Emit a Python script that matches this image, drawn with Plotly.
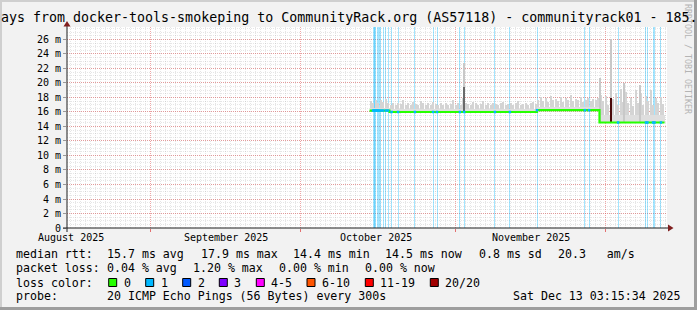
import numpy as np
import pandas as pd
import plotly.graph_objects as go

# ------------------------------------------------------------------ data
title_text = "ays from docker-tools-smokeping to CommunityRack.org (AS57118) - communityrack01 - 185."
watermark_text = "RRDTOOL / TOBI OETIKER"

x_range = ["2025-08-15 06:00", "2025-12-13 06:00"]
y_max_ms = 27.72

y_tick_vals = [0, 2, 4, 6, 8, 10, 12, 14, 16, 18, 20, 22, 24, 26]
y_tick_text = ["0", "2 m", "4 m", "6 m", "8 m", "10 m", "12 m", "14 m",
               "16 m", "18 m", "20 m", "22 m", "24 m", "26 m"]

month_labels = ["August 2025", "September 2025", "October 2025", "November 2025"]
month_label_dates = ["2025-08-16", "2025-09-16", "2025-10-16", "2025-11-16"]

# median rtt (ms), step changes
median_dates = ["2025-10-14 18:00", "2025-10-18 18:00", "2025-11-17 06:00",
                "2025-11-29 18:00", "2025-12-12 18:00"]
median_ms = [16.2, 16.0, 16.25, 14.55, 14.55]

# smoke: lower dense band top per median segment (ms)
smoke_band_ms = [16.6, 16.35, 16.7, 15.6, 15.6]

# smoke upper envelope, 12-hour steps starting at smoke_start (ms)
smoke_start = "2025-10-14 18:00"
smoke_top_ms = [
    17.5, 17.3, 17.7, 17.2, 17.6, 17.4, 17.8, 17.3,
    17.0, 17.2, 16.9, 17.3, 17.1, 17.6, 17.0, 17.2, 16.9, 17.4,
    17.1, 17.0, 17.5, 17.2, 16.9, 17.3, 17.0, 17.4, 17.1, 17.0,
    17.2, 16.9, 17.3, 17.0, 17.1, 17.6, 17.0, 17.2, 17.0, 17.9,
    17.3, 17.1, 17.0, 17.4, 17.2, 16.9, 17.1, 17.5, 17.0, 17.2,
    17.0, 17.3, 17.1, 16.9, 17.2, 17.4, 17.0, 17.1, 17.3, 17.0,
    17.2, 17.5, 17.0, 17.1, 17.3, 17.0, 17.2, 17.4, 17.1,
    17.6, 18.1, 17.5, 17.9, 17.4, 18.2, 17.6, 17.8, 17.5, 18.0,
    17.4, 17.9, 17.6, 18.3, 17.5, 17.8, 17.6, 18.0, 17.4, 17.7,
    17.9, 17.5, 17.8, 17.6, 17.9,
    18.4, 17.5, 18.2, 17.0, 18.0, 17.8, 18.6, 16.9, 19.2, 17.4,
    18.8, 17.2, 17.9, 16.8, 19.0, 17.3, 18.6, 17.0, 18.2, 17.5,
    19.0, 16.9, 17.9, 17.3, 18.0, 17.1,
]

# tall single-interval smoke spikes
spike_dates = ["2025-11-02 15:00", "2025-11-29 20:00", "2025-12-02 01:00",
               "2025-12-04 14:00", "2025-12-07 22:00"]
spike_ms = [22.8, 20.7, 26.0, 20.0, 19.7]

# median excursions with heavy loss (dark)
dark_dates = ["2025-11-02 15:00", "2025-12-02 01:00"]
dark_lo_ms = [16.0, 14.55]
dark_hi_ms = [19.5, 17.9]
dark_colors = ["#6a6a6a", "#4a0a0a"]

# consolidated intervals with packet loss (1 of 20)
loss_dates = [
    "2025-10-15 11:00", "2025-10-15 16:00", "2025-10-15 20:00", "2025-10-16 01:00",
    "2025-10-16 06:00", "2025-10-16 11:00", "2025-10-16 16:00", "2025-10-17 01:00",
    "2025-10-17 11:00", "2025-10-18 01:00", "2025-10-18 11:00", "2025-10-19 04:00",
    "2025-10-20 11:00", "2025-10-23 20:00", "2025-10-27 11:00", "2025-10-28 06:00",
    "2025-11-01 20:00", "2025-11-02 16:00", "2025-11-08 20:00", "2025-11-11 20:00",
    "2025-11-17 06:00", "2025-11-26 20:00", "2025-11-27 16:00", "2025-12-03 11:00",
    "2025-12-09 01:00", "2025-12-09 08:00", "2025-12-10 11:00", "2025-12-10 18:00",
    "2025-12-12 01:00",
]

# legend
rtt_label = "median rtt:"
rtt_stats = ["15.7 ms avg", "17.9 ms max", "14.4 ms min", "14.5 ms now", "0.8 ms sd", "20.3   am/s"]
loss_label = "packet loss:"
loss_stats = ["0.04 % avg", "1.20 % max", "0.00 % min", "0.00 % now"]
color_label = "loss color:"
loss_color_names = ["0", "1", "2", "3", "4-5", "6-10", "11-19", "20/20"]
loss_color_values = ["#26ff00", "#00b8ff", "#0059ff", "#7e00ff", "#ff00ff", "#ff5500", "#ff0000", "#a10000"]
probe_label = "probe:"
probe_text = "20 ICMP Echo Pings (56 Bytes) every 300s"
timestamp_text = "Sat Dec 13 03:15:34 2025"

# ------------------------------------------------------------------ layout geometry
W, H = 697, 310
PL, PR, PT, PB = 67, 667, 27, 228
MONO = "DejaVu Sans Mono"


def px(x):
    return (x - PL) / (PR - PL)


def py(y):
    return (PB - y) / (PB - PT)


HOUR = 3600 * 1000
md = pd.to_datetime(median_dates)


def seg_index(ts):
    idx = np.searchsorted(md.values, pd.to_datetime(ts).values, side="right") - 1
    return np.clip(idx, 0, len(median_ms) - 1)


fig = go.Figure()

# loss bars (full height)
fig.add_trace(go.Bar(x=pd.to_datetime(loss_dates), y=[y_max_ms] * len(loss_dates),
                     width=4.8 * HOUR, marker_color="rgba(0,184,255,0.36)",
                     marker_line_width=0, hoverinfo="skip"))

# smoke envelope
smoke_x = pd.date_range(smoke_start, periods=len(smoke_top_ms), freq="12h") + pd.Timedelta(hours=6)
smoke_base = np.array(median_ms)[seg_index(smoke_x)]
fig.add_trace(go.Bar(x=smoke_x, y=np.array(smoke_top_ms) - smoke_base, base=smoke_base,
                     width=4 * HOUR, marker_color="#d4d4d4", marker_line_width=0,
                     hoverinfo="skip"))
band_top = np.array(smoke_band_ms)[seg_index(smoke_x)]
fig.add_trace(go.Bar(x=smoke_x, y=band_top - smoke_base, base=smoke_base,
                     width=12 * HOUR, marker_color="#dedede", marker_line_width=0,
                     hoverinfo="skip"))
sp_base = np.array(median_ms)[seg_index(spike_dates)]
fig.add_trace(go.Bar(x=pd.to_datetime(spike_dates), y=np.array(spike_ms) - sp_base, base=sp_base,
                     width=4.8 * HOUR, marker_color="#c8c8c8", marker_line_width=0,
                     hoverinfo="skip"))
fig.add_trace(go.Bar(x=pd.to_datetime(dark_dates), y=np.array(dark_hi_ms) - np.array(dark_lo_ms),
                     base=dark_lo_ms, width=4.8 * HOUR, marker_color=dark_colors,
                     marker_line_width=0, hoverinfo="skip"))

# median line
fig.add_trace(go.Scatter(x=md, y=median_ms, mode="lines", line_shape="hv",
                         line=dict(color=loss_color_values[0], width=2.2), hoverinfo="skip"))
loss_med = np.array(median_ms)[seg_index(loss_dates)]
fig.add_trace(go.Scatter(x=pd.to_datetime(loss_dates), y=loss_med, mode="markers",
                         marker=dict(symbol="square", size=2.5, color=loss_color_values[1]),
                         hoverinfo="skip"))

fig.update_layout(
    width=W, height=H,
    margin=dict(l=PL, r=W - PR, t=PT, b=H - PB, pad=0),
    paper_bgcolor="#f2f2f2", plot_bgcolor="#ffffff",
    showlegend=False, barmode="overlay", bargap=0,
    font=dict(family=MONO, size=10, color="#000000"),
)
fig.update_xaxes(
    type="date", range=x_range, showline=False, zeroline=False,
    showgrid=True, dtick="M1", tick0="2025-09-01",
    gridcolor="rgba(222,79,79,0.5)", griddash="1px,1px", gridwidth=1,
    ticks="outside", ticklen=3, tickcolor="rgba(222,79,79,0.8)", showticklabels=False,
    minor=dict(dtick=24 * HOUR, tick0="2025-08-16", showgrid=True,
               gridcolor="rgba(143,143,143,0.22)", griddash="1px,1px", gridwidth=1),
)
fig.update_yaxes(
    range=[0, y_max_ms], showline=False, zeroline=False,
    tickmode="array", tickvals=y_tick_vals, ticktext=y_tick_text,
    showgrid=True, gridcolor="rgba(222,79,79,0.5)", griddash="1px,1px", gridwidth=1,
    ticks="outside", ticklen=3, tickcolor="#999999",
    tickfont=dict(family=MONO, size=10, color="#000000"),
    minor=dict(dtick=0.5, showgrid=True, gridcolor="rgba(143,143,143,0.22)",
               griddash="1px,1px", gridwidth=1),
)

shapes = []
ann = []


def rect(x0, y0, x1, y1, color, line=None):
    d = dict(type="rect", xref="paper", yref="paper", x0=px(x0), x1=px(x1), y0=py(y0), y1=py(y1),
             fillcolor=color, layer="above")
    d["line"] = dict(color=line, width=1) if line else dict(width=0)
    shapes.append(d)


# frame
rect(0, 0, W, 2, "#cfcfcf")
rect(0, 0, 2, H, "#cfcfcf")
rect(0, H - 3, W, H, "#9e9e9e")
rect(W - 3, 0, W, H, "#9e9e9e")

# axes with arrows
shapes.append(dict(type="line", xref="paper", yref="paper", x0=px(63), x1=px(669), y0=py(228), y1=py(228),
                   line=dict(color="#1f1f1f", width=1), layer="above"))
shapes.append(dict(type="line", xref="paper", yref="paper", x0=px(67), x1=px(67), y0=py(232), y1=py(25),
                   line=dict(color="#1f1f1f", width=1), layer="above"))
shapes.append(dict(type="path", xref="paper", yref="paper",
                   path=f"M {px(63.5)},{py(26.5)} L {px(67)},{py(21)} L {px(70.5)},{py(26.5)} Z",
                   fillcolor="#801f1f", line=dict(width=0), layer="above"))
shapes.append(dict(type="path", xref="paper", yref="paper",
                   path=f"M {px(668)},{py(224.5)} L {px(673.5)},{py(228)} L {px(668)},{py(231.5)} Z",
                   fillcolor="#801f1f", line=dict(width=0), layer="above"))


def text(x, y, s, size=11.6, color="#000000", anchor="left", angle=0):
    ann.append(dict(xref="paper", yref="paper", x=px(x), y=py(y), text=s.replace(" ", "&nbsp;"),
                    showarrow=False, xanchor=anchor, yanchor="middle", textangle=angle,
                    borderpad=0, borderwidth=0,
                    font=dict(family=MONO, size=size, color=color)))


# watermark and title
text(688, 59, watermark_text, size=8.3, color="#b4b4b4", anchor="center", angle=90)
text(1, 17.2, title_text, size=13.3)

# month labels
for lab, d in zip(month_labels, month_label_dates):
    ann.append(dict(xref="x", yref="paper", x=d, y=py(237.3), text=lab, showarrow=False,
                    xanchor="center", yanchor="middle", borderpad=0, borderwidth=0,
                    font=dict(family=MONO, size=10, color="#000000")))

# legend rows
ROW = [254.2, 268.3, 282.5, 296.2]
text(16, ROW[0], rtt_label)
for s, x in zip(rtt_stats, [107, 200.7, 293.3, 385, 479.3, 558.3]):
    text(x, ROW[0], s)
text(16, ROW[1], loss_label)
for s, x in zip(loss_stats, [107.3, 193.2, 279, 365]):
    text(x, ROW[1], s)
text(16, ROW[2], color_label)
for name, col, x in zip(loss_color_names, loss_color_values,
                        [108.7, 145.7, 182.7, 219.3, 256.3, 307, 365.3, 430.3]):
    rect(x, ROW[2] - 4, x + 8, ROW[2] + 4, col, line="#000000")
    text(x + 15, ROW[2], name)
text(16, ROW[3], probe_label)
text(107.3, ROW[3], probe_text)
text(513.3, ROW[3], timestamp_text)

fig.update_layout(shapes=shapes, annotations=ann)
fig.write_html("out.html")
